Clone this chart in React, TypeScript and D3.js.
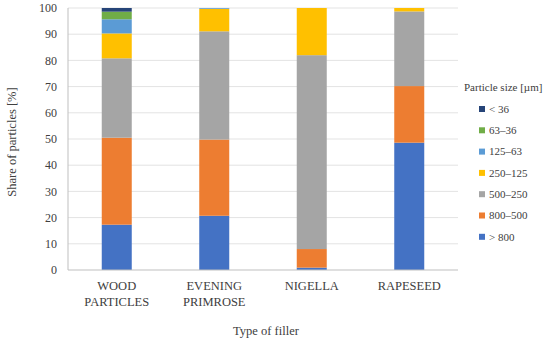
import React from 'react';
import * as d3 from 'd3';

const fillers = ['WOOD PARTICLES', 'EVENING PRIMROSE', 'NIGELLA', 'RAPESEED'];
const sizeClasses = ['> 800', '800–500', '500–250', '250–125', '125–63', '63–36', '< 36'];
const classColors = ['#4472c4', '#ed7d31', '#a5a5a5', '#ffc000', '#5b9bd5', '#70ad47', '#264478'];

// share per class, bottom to top, one list per filler
const woodShare = [17.3, 33.2, 30.3, 9.5, 5.4, 2.9, 1.4];
const primroseShare = [20.7, 29.1, 41.3, 8.6, 0.3, 0, 0];
const nigellaShare = [0.9, 7.1, 74.0, 18.0, 0, 0, 0];
const rapeseedShare = [48.6, 21.6, 28.5, 1.3, 0, 0, 0];
const yTicks = [0, 10, 20, 30, 40, 50, 60, 70, 80, 90, 100];

const W = 550, H = 341;
const m = { left: 68, right: 92, top: 8, bottom: 71 };
const font = '"Liberation Serif", "DejaVu Serif", serif';

export default function App() {
  const shares = [woodShare, primroseShare, nigellaShare, rapeseedShare];
  const x = d3.scaleBand().domain(fillers).range([m.left, W - m.right]).paddingInner(0).paddingOuter(0);
  const y = d3.scaleLinear().domain([0, 100]).range([H - m.bottom, m.top]);
  const barW = 30;

  const rows = fillers.map((f, i) => {
    const r: any = { filler: f };
    sizeClasses.forEach((c, j) => (r[c] = shares[i][j]));
    return r;
  });
  const series = d3.stack().keys(sizeClasses)(rows);

  return (
    <svg width={W} height={H} style={{ position: 'absolute', left: 0, top: 0 }} fontFamily={font}>
      <rect width={W} height={H} fill="#fff" />
      {yTicks.map(t => (
        <g key={t}>
          {t > 0 && <line x1={m.left} x2={W - m.right} y1={y(t)} y2={y(t)} stroke="#e3e3e3" strokeWidth={1} />}
          <text x={m.left - 11} y={y(t)} dy="0.35em" textAnchor="end" fontSize={12} fill="#404040">{t}</text>
        </g>
      ))}
      {series.map((s, j) => (
        <g key={s.key} fill={classColors[j]}>
          {s.map((d, i) => (d[1] - d[0] > 0 ?
            <rect key={i} x={x(fillers[i])! + x.bandwidth() / 2 - barW / 2} y={y(d[1])} width={barW} height={y(d[0]) - y(d[1])} /> : null))}
        </g>
      ))}
      <line x1={m.left} x2={m.left} y1={y(100)} y2={y(0)} stroke="#bfbfbf" />
      <line x1={m.left} x2={W - m.right} y1={y(0)} y2={y(0)} stroke="#bfbfbf" />
      {fillers.map(f => {
        const words = f.split(' ');
        return (
          <text key={f} x={x(f)! + x.bandwidth() / 2} y={y(0) + 20} textAnchor="middle" fontSize={12.5} fill="#404040">
            {words.map((w, k) => <tspan key={k} x={x(f)! + x.bandwidth() / 2} dy={k === 0 ? 0 : 16}>{w}</tspan>)}
          </text>
        );
      })}
      <text x={(m.left + W - m.right) / 2 + 3} y={335} textAnchor="middle" fontSize={12.5} fill="#404040">Type of filler</text>
      <text transform={`translate(12,${(y(0) + y(100)) / 2 + 3}) rotate(-90)`} textAnchor="middle" dy="0.35em" fontSize={12.5} fill="#404040">Share of particles [%]</text>
      <text x={464} y={91} fontSize={11} fill="#404040">Particle size [µm]</text>
      {sizeClasses.slice().reverse().map((c, k) => {
        const j = sizeClasses.length - 1 - k;
        const cy = 109 + k * 21.3;
        return (
          <g key={c}>
            <rect x={479} y={cy - 3} width={6} height={6} fill={classColors[j]} />
            <text x={489} y={cy} dy="0.35em" fontSize={11} fill="#404040">{c}</text>
          </g>
        );
      })}
    </svg>
  );
}
